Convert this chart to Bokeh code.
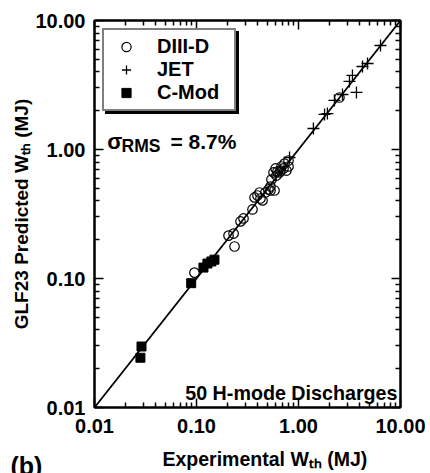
import math
from bokeh.plotting import figure
from bokeh.models import LogAxis, FixedTicker, Label, Legend, LegendItem, Range1d, LogScale, Title
from bokeh.embed import file_html
from bokeh.resources import INLINE

# ---------------- data ----------------
series_names = ["DIII-D", "JET", "C-Mod"]

d3d_exp = [0.0955, 0.206, 0.231, 0.236, 0.270, 0.289, 0.354, 0.371, 0.396, 0.415,
           0.424, 0.444, 0.474, 0.508, 0.531, 0.531, 0.543, 0.569, 0.582, 0.596,
           0.608, 0.622, 0.652, 0.667, 0.681, 0.713, 0.729, 0.762, 0.798, 0.798, 2.52]
d3d_pred = [0.111, 0.215, 0.223, 0.177, 0.277, 0.292, 0.343, 0.425, 0.440, 0.464,
            0.417, 0.403, 0.464, 0.490, 0.516, 0.481, 0.585, 0.664, 0.481, 0.713,
            0.628, 0.675, 0.664, 0.687, 0.738, 0.713, 0.778, 0.687, 0.738, 0.822, 2.53]

jet_exp = [0.817, 1.40, 1.80, 1.92, 2.25, 2.70, 3.16, 3.38, 3.70, 4.24, 4.75, 6.37]
jet_pred = [0.867, 1.455, 1.87, 1.90, 2.40, 2.67, 3.37, 3.75, 2.77, 4.40, 4.64, 6.40]

cmod_exp = [0.0289, 0.0282, 0.0887, 0.117, 0.128, 0.140, 0.150]
cmod_pred = [0.0297, 0.0243, 0.092, 0.1215, 0.1306, 0.1355, 0.140]

unity = [0.01, 10.0]
tick_values = [0.01, 0.1, 1.0, 10.0]
tick_labels = ["0.01", "0.10", "1.00", "10.00"]
minor_values = [m * v for v in tick_values[:-1] for m in range(2, 10)]

x_title = "Experimental W\u209c\u2095 (MJ)"
y_title = "GLF23 Predicted W\u209c\u2095 (MJ)"

FONT = "Liberation Sans"

p = figure(width=430, height=473, x_axis_type=None, y_axis_type=None,
           x_range=Range1d(0.01, 10.0), y_range=Range1d(0.01, 10.0),
           output_backend="svg", toolbar_location=None,
           min_border_left=94, min_border_right=30, min_border_top=20, min_border_bottom=66)
p.x_scale = LogScale()
p.y_scale = LogScale()
p.xgrid.visible = False
p.ygrid.visible = False
p.outline_line_color = "black"
p.outline_line_width = 2
p.background_fill_color = "white"
p.border_fill_color = "white"


def make_axis(show_labels, standoff):
    ax = LogAxis(ticker=FixedTicker(ticks=tick_values, minor_ticks=minor_values))
    ax.axis_line_width = 2
    ax.axis_line_color = "black"
    ax.major_tick_in = 9
    ax.major_tick_out = 0
    ax.minor_tick_in = 5
    ax.minor_tick_out = 0
    ax.major_tick_line_width = 1.5
    ax.minor_tick_line_width = 1.5
    ax.major_tick_line_color = "black"
    ax.minor_tick_line_color = "black"
    if show_labels:
        ax.major_label_overrides = dict(zip(tick_values, tick_labels))
        ax.major_label_text_font = FONT
        ax.major_label_text_font_style = "bold"
        ax.major_label_text_font_size = "20px"
        ax.major_label_text_color = "black"
        ax.major_label_standoff = standoff
        ax.axis_label_text_font = FONT
        ax.axis_label_text_font_style = "bold"
        ax.axis_label_text_font_size = "19px"
        ax.axis_label_text_color = "black"
    else:
        ax.major_label_overrides = {v: "" for v in tick_values}
        ax.major_label_text_font_size = "0px"
        ax.major_label_standoff = 0
    return ax


xaxis = make_axis(True, 11)
yaxis = make_axis(True, 9)
yaxis.axis_label = y_title
yaxis.axis_label_standoff = 0
p.add_layout(xaxis, "below")
p.add_layout(yaxis, "left")
p.add_layout(make_axis(False, 0), "above")
p.add_layout(make_axis(False, 0), "right")


def set_standoff(t, s):
    try:
        t.standoff = s
    except Exception:
        t.standoff = 0


# x-axis title, placed a little right of centre as in the reference
xt = Title(text=x_title, align="left", vertical_align="bottom", offset=68,
           text_font=FONT, text_font_style="bold", text_font_size="19.5px",
           text_color="black")
set_standoff(xt, -68)
p.add_layout(xt, "below")

# panel tag "(b)" below the x axis, at the far left
tag = Title(text="(b)", align="left", vertical_align="bottom", offset=-84,
            text_font=FONT, text_font_style="bold", text_font_size="25px",
            text_color="black")
set_standoff(tag, -89)
p.add_layout(tag, "below")

# one-to-one line
p.line(unity, unity, line_color="black", line_width=1.8)

r_d3d = p.scatter(d3d_exp, d3d_pred, marker="circle", size=9.5, fill_color=None,
                  line_color="black", line_width=1.2)
r_jet = p.scatter(jet_exp, jet_pred, marker="cross", size=12,
                  line_color="black", line_width=1.3)
r_cmod = p.scatter(cmod_exp, cmod_pred, marker="square", size=9,
                   fill_color="black", line_color="black", line_width=1)

renderers = [r_d3d, r_jet, r_cmod]


def make_legend(margin, shadow):
    names = ["" for _ in series_names] if shadow else series_names
    items = [LegendItem(label=n, renderers=[r]) for n, r in zip(names, renderers)]
    lg = Legend(items=items, location="top_left", margin=margin)
    lg.padding = 5
    lg.spacing = 0
    lg.glyph_width = 34
    lg.glyph_height = 23
    lg.label_height = 23
    lg.label_width = 72
    lg.label_standoff = 14
    lg.label_text_font = FONT
    lg.label_text_font_style = "bold"
    lg.label_text_font_size = "20px"
    lg.border_line_color = "black"
    lg.border_line_width = 2
    lg.background_fill_alpha = 1.0
    lg.label_text_color = "black"
    lg.background_fill_color = "black" if shadow else "white"
    return lg


p.add_layout(make_legend(11, True))
p.add_layout(make_legend(8, False))


def lab(text, x, y, dx, dy, size, align="left"):
    p.add_layout(Label(x=x, y=y, x_offset=dx, y_offset=dy, text=text,
                       text_font=FONT, text_font_style="bold",
                       text_font_size=size, text_color="black",
                       text_align=align, text_baseline="alphabetic"))


# sigma RMS
lab("\u03c3", 0.01, 10.0, 12.7, -121, "22px")
lab("RMS", 0.01, 10.0, 27, -125, "17.5px")
lab("= 8.7%", 0.01, 10.0, 76, -120.7, "21px")

# annotation
lab("50 H-mode Discharges", 10.0, 0.01, -3, 15, "19.7px", "right")

open("out.html", "w").write(file_html(p, INLINE))
